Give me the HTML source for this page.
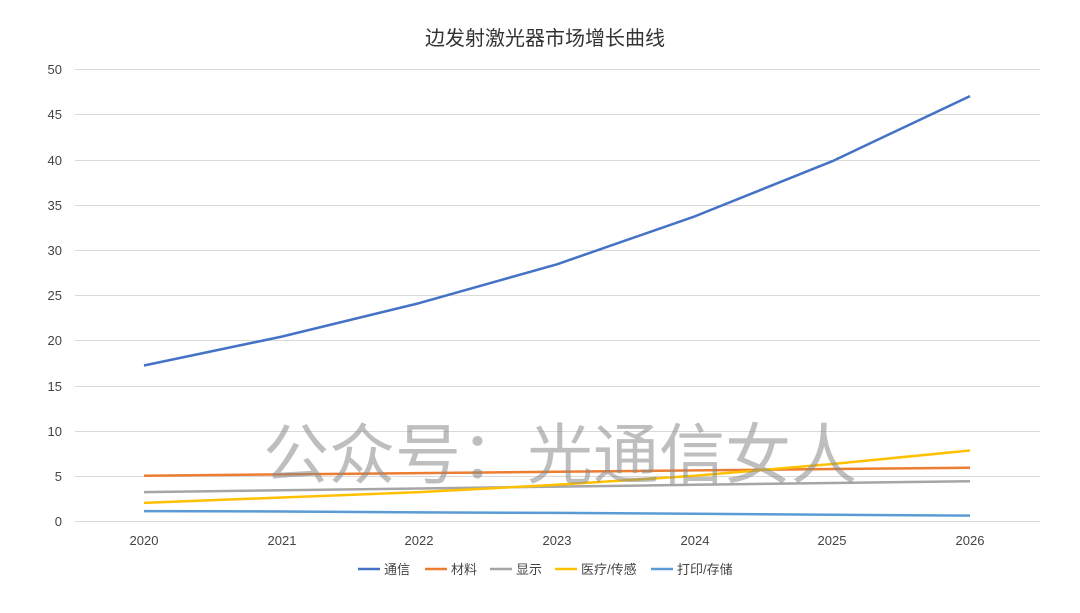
<!DOCTYPE html>
<html><head><meta charset="utf-8"><style>
body{margin:0;background:#fff;}
svg text{font-family:"Liberation Sans","Noto Sans CJK SC",sans-serif;}
</style></head><body>
<svg width="1080" height="608" viewBox="0 0 1080 608" xmlns="http://www.w3.org/2000/svg">
<rect width="1080" height="608" fill="#fff"/>
<text x="545" y="45" font-size="20" text-anchor="middle" fill="#333">边发射激光器市场增长曲线</text>
<g stroke="#d9d9d9" stroke-width="1">
<line x1="75" x2="1040" y1="69.5" y2="69.5"/><line x1="75" x2="1040" y1="114.5" y2="114.5"/>
<line x1="75" x2="1040" y1="160.5" y2="160.5"/><line x1="75" x2="1040" y1="205.5" y2="205.5"/>
<line x1="75" x2="1040" y1="250.5" y2="250.5"/><line x1="75" x2="1040" y1="295.5" y2="295.5"/>
<line x1="75" x2="1040" y1="340.5" y2="340.5"/><line x1="75" x2="1040" y1="386.5" y2="386.5"/>
<line x1="75" x2="1040" y1="431.5" y2="431.5"/><line x1="75" x2="1040" y1="476.5" y2="476.5"/>
<line x1="75" x2="1040" y1="521.5" y2="521.5"/>
</g>
<g font-size="13" fill="#444" text-anchor="end">
<text x="62" y="74">50</text><text x="62" y="119">45</text><text x="62" y="165">40</text>
<text x="62" y="210">35</text><text x="62" y="255">30</text><text x="62" y="300">25</text>
<text x="62" y="345">20</text><text x="62" y="391">15</text><text x="62" y="436">10</text>
<text x="62" y="481">5</text><text x="62" y="526">0</text>
</g>
<g font-size="13" fill="#444" text-anchor="middle">
<text x="144" y="545">2020</text><text x="282" y="545">2021</text><text x="419" y="545">2022</text>
<text x="557" y="545">2023</text><text x="695" y="545">2024</text><text x="832" y="545">2025</text>
<text x="970" y="545">2026</text>
</g>
<g fill="none" stroke-width="2.5" stroke-linejoin="round">
<polyline stroke="#5B9BD5" points="144,511.1 281.7,511.5 419.3,512.4 557,512.9 694.7,513.8 832.3,514.7 970,515.6"/>
<polyline stroke="#A5A5A5" points="144,492.1 281.7,490.3 419.3,488.5 557,486.6 694.7,484.8 832.3,483 970,481.2"/>
<polyline stroke="#ED7D31" points="144,475.8 281.7,474.4 419.3,473.1 557,471.7 694.7,470.4 832.3,469 970,467.7"/>
<polyline stroke="#FFC000" points="144,502.9 281.7,497.5 419.3,492.1 557,484.8 694.7,475.8 832.3,464 970,450.5"/>
<polyline stroke="#4472C4" points="144,365.5 281.7,336.6 419.3,303.1 557,264.3 694.7,216.4 832.3,161.2 970,96.1"/>
</g>
<text x="560" y="478" font-size="66" fill="#888" fill-opacity="0.55" text-anchor="middle">公众号：光通信女人</text>
<g font-size="13" fill="#444">
<line x1="358" x2="380" y1="569" y2="569" stroke="#4472C4" stroke-width="2.5"/><text x="384" y="574">通信</text>
<line x1="425" x2="447" y1="569" y2="569" stroke="#ED7D31" stroke-width="2.5"/><text x="451" y="574">材料</text>
<line x1="490" x2="512" y1="569" y2="569" stroke="#A5A5A5" stroke-width="2.5"/><text x="516" y="574">显示</text>
<line x1="555" x2="577" y1="569" y2="569" stroke="#FFC000" stroke-width="2.5"/><text x="581" y="574">医疗/传感</text>
<line x1="651" x2="673" y1="569" y2="569" stroke="#5B9BD5" stroke-width="2.5"/><text x="677" y="574">打印/存储</text>
</g>
</svg>
</body></html>
